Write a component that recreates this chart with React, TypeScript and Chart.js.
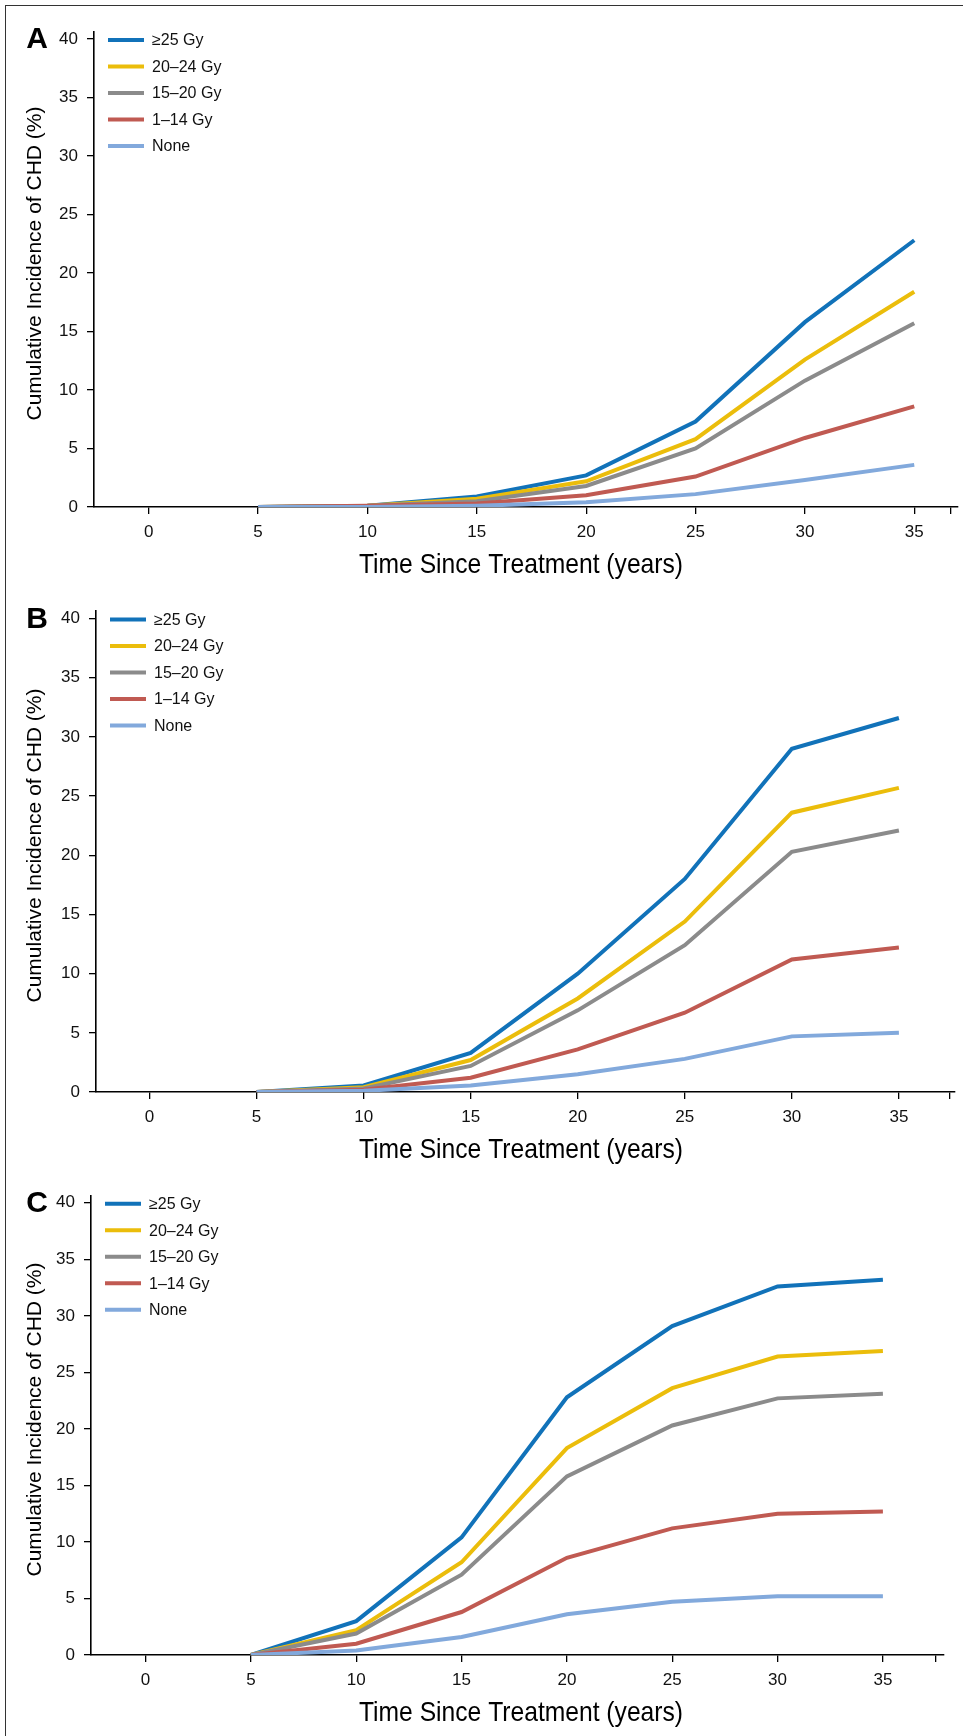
import React, { useEffect, useRef } from 'react';
import { Chart, registerables } from 'chart.js';

Chart.register(...registerables);

// ---------- data ----------
const years = [5, 10, 15, 20, 25, 30, 35];
const seriesLabels = ['≥25 Gy', '20–24 Gy', '15–20 Gy', '1–14 Gy', 'None'];
const xTickValues = [0, 5, 10, 15, 20, 25, 30, 35];
const yTickValues = [0, 5, 10, 15, 20, 25, 30, 35, 40];
const xTitle = 'Time Since Treatment (years)';
const yTitle = 'Cumulative Incidence of CHD (%)';

// Panel A
const a_ge25 = [0, 0.1, 0.9, 2.7, 7.3, 15.8, 22.8];
const a_20_24 = [0, 0.1, 0.7, 2.2, 5.8, 12.6, 18.4];
const a_15_20 = [0, 0.1, 0.5, 1.8, 5.0, 10.8, 15.7];
const a_1_14 = [0, 0.1, 0.3, 1.0, 2.6, 5.9, 8.6];
const a_none = [0, 0.0, 0.1, 0.4, 1.1, 2.3, 3.6];

// Panel B
const b_ge25 = [0, 0.55, 3.3, 10.0, 18.0, 29.0, 31.6];
const b_20_24 = [0, 0.4, 2.7, 7.9, 14.4, 23.6, 25.7];
const b_15_20 = [0, 0.3, 2.2, 6.9, 12.4, 20.3, 22.1];
const b_1_14 = [0, 0.2, 1.2, 3.6, 6.7, 11.2, 12.2];
const b_none = [0, 0.1, 0.55, 1.5, 2.8, 4.7, 5.0];

// Panel C
const c_ge25 = [0, 3.0, 10.4, 22.8, 29.1, 32.6, 33.2];
const c_20_24 = [0, 2.2, 8.2, 18.3, 23.6, 26.4, 26.9];
const c_15_20 = [0, 1.9, 7.1, 15.8, 20.3, 22.7, 23.1];
const c_1_14 = [0, 1.0, 3.8, 8.6, 11.2, 12.5, 12.7];
const c_none = [0, 0.4, 1.6, 3.6, 4.7, 5.2, 5.2];

// ---------- styles ----------
const seriesColors = ['#1172b9', '#ebbd0b', '#8b8b8b', '#c05a52', '#82a9dc'];
const FONT = '"Liberation Sans", Arial, Helvetica, sans-serif';

type Geo = {
  top: number; height: number;
  areaTop: number; areaBottom: number; areaLeft: number; areaRight: number;
  xMin: number; xMax: number; yMax: number; endTick: number;
};

const decorPlugin = {
  id: 'decor',
  afterDraw(chart: any, _args: any, opts: any) {
    const { ctx, chartArea, scales } = chart;
    const y40 = scales.y.getPixelForValue(40);
    ctx.save();
    ctx.fillStyle = '#000';
    // panel letter
    ctx.font = `bold 30px ${FONT}`;
    ctx.textAlign = 'center';
    ctx.textBaseline = 'middle';
    ctx.fillText(opts.letter, 37, y40 + 1);
    // legend
    const lx = chartArea.left + 14;
    ctx.font = `16px ${FONT}`;
    ctx.textAlign = 'left';
    opts.labels.forEach((lab: string, i: number) => {
      const y = y40 + 1 + i * 26.5;
      ctx.strokeStyle = opts.colors[i];
      ctx.lineWidth = 4;
      ctx.beginPath();
      ctx.moveTo(lx, y);
      ctx.lineTo(lx + 36, y);
      ctx.stroke();
      ctx.fillStyle = '#111';
      ctx.fillText(lab, lx + 44, y + 1);
    });
    // x title (condensed look)
    ctx.fillStyle = '#000';
    ctx.save();
    ctx.translate(opts.xTitleX, chartArea.bottom + 58);
    ctx.scale(0.88, 1);
    ctx.font = `28px ${FONT}`;
    ctx.textAlign = 'center';
    ctx.textBaseline = 'middle';
    ctx.fillText(opts.xTitle, 0, 0);
    ctx.restore();
    // y title
    ctx.translate(35, (chartArea.top + chartArea.bottom) / 2 - 6);
    ctx.rotate(-Math.PI / 2);
    ctx.font = `21px ${FONT}`;
    ctx.textAlign = 'center';
    ctx.textBaseline = 'middle';
    ctx.fillText(opts.yTitle, 0, 0);
    ctx.restore();
  },
};

function Panel({ letter, series, geo }: { letter: string; series: number[][]; geo: Geo }) {
  const ref = useRef<HTMLCanvasElement>(null);
  useEffect(() => {
    if (!ref.current) return;
    const datasets = series.map((vals, i) => ({
      label: seriesLabels[i],
      data: years.map((x, k) => ({ x, y: vals[k] })),
      borderColor: seriesColors[i],
      backgroundColor: seriesColors[i],
      borderWidth: 4,
      pointRadius: 0,
      tension: 0,
      fill: false,
      order: series.length - i,
      borderCapStyle: 'butt' as const,
    }));
    const W = 963;
    const chart = new Chart(ref.current, {
      type: 'line',
      data: { datasets },
      plugins: [decorPlugin],
      options: {
        animation: false,
        responsive: false,
        devicePixelRatio: 1,
        layout: { padding: { top: geo.areaTop, left: 0, right: W - geo.areaRight, bottom: 0 } },
        plugins: {
          legend: { display: false },
          tooltip: { enabled: false },
          decor: { letter, labels: seriesLabels, colors: seriesColors, xTitle, yTitle, xTitleX: 521 },
        } as any,
        scales: {
          x: {
            type: 'linear',
            min: geo.xMin,
            max: geo.xMax,
            afterBuildTicks: (s: any) => {
              s.ticks = [...xTickValues, geo.endTick].map((v) => ({ value: v }));
            },
            afterFit: (s: any) => {
              s.height = geo.height - geo.areaBottom;
            },
            grid: { display: true, drawOnChartArea: false, drawTicks: true, tickLength: 7, color: '#000', lineWidth: 1.3 },
            border: { display: true, color: '#000', width: 1.6 },
            ticks: {
              padding: 8,
              color: '#111',
              font: { family: FONT, size: 17 },
              maxRotation: 0,
              autoSkip: false,
              callback: (v: any) => (v > 35.5 ? '' : String(v)),
            },
          },
          y: {
            type: 'linear',
            min: 0,
            max: geo.yMax,
            afterBuildTicks: (s: any) => {
              s.ticks = yTickValues.map((v) => ({ value: v }));
            },
            afterFit: (s: any) => {
              s.width = geo.areaLeft;
            },
            grid: { display: true, drawOnChartArea: false, drawTicks: true, tickLength: 7, color: '#000', lineWidth: 1.3 },
            border: { display: true, color: '#000', width: 1.6 },
            ticks: {
              padding: 9,
              color: '#111',
              font: { family: FONT, size: 17 },
              autoSkip: false,
              callback: (v: any) => String(v),
            },
          },
        },
      },
    });
    return () => chart.destroy();
  }, [letter, series, geo]);
  return (
    <canvas
      ref={ref}
      width={963}
      height={geo.height}
      style={{ position: 'absolute', left: 0, top: geo.top, width: 963, height: geo.height }}
    />
  );
}

const geoA: Geo = { top: 0, height: 590, areaTop: 32, areaBottom: 507, areaLeft: 94, areaRight: 958, xMin: -2.5, xMax: 37, yMax: 40.6, endTick: 36.67 };
const geoB: Geo = { top: 590, height: 585, areaTop: 21, areaBottom: 502, areaLeft: 96, areaRight: 955, xMin: -2.5, xMax: 37.62, yMax: 40.64, endTick: 37.39 };
const geoC: Geo = { top: 1175, height: 561, areaTop: 21, areaBottom: 480, areaLeft: 91, areaRight: 944, xMin: -2.59, xMax: 37.9, yMax: 40.6, endTick: 37.5 };

export default function App() {
  return (
    <div style={{ position: 'absolute', left: 0, top: 0, width: 963, height: 1736, background: '#fff', overflow: 'hidden' }}>
      <div style={{ position: 'absolute', left: 5, top: 5, width: 963, height: 1740, border: '1.5px solid #333', boxSizing: 'border-box' }} />
      <Panel letter="A" series={[a_ge25, a_20_24, a_15_20, a_1_14, a_none]} geo={geoA} />
      <Panel letter="B" series={[b_ge25, b_20_24, b_15_20, b_1_14, b_none]} geo={geoB} />
      <Panel letter="C" series={[c_ge25, c_20_24, c_15_20, c_1_14, c_none]} geo={geoC} />
    </div>
  );
}
